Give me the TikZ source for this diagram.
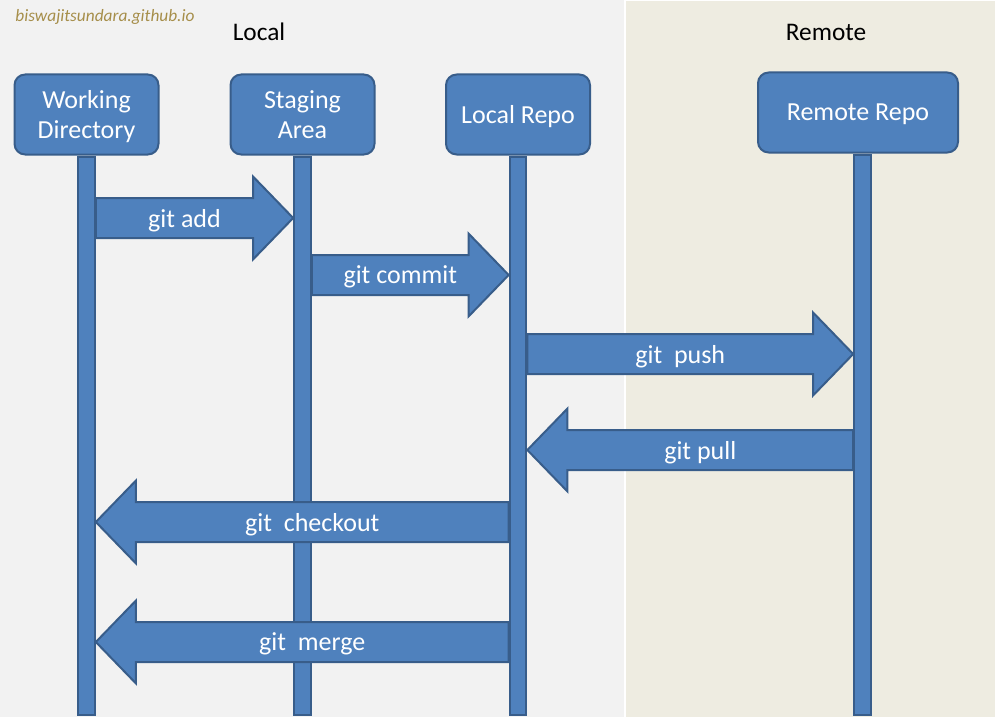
\documentclass[tikz,border=0pt]{standalone}
\usepackage{fontspec}
\setmainfont{Carlito}
\usetikzlibrary{calc}
\definecolor{boxblue}{RGB}{79,129,189}
\definecolor{boxedge}{RGB}{56,93,138}
\definecolor{localbg}{RGB}{242,242,242}
\definecolor{remotebg}{RGB}{238,236,225}
\definecolor{siteink}{RGB}{166,142,74}
\tikzstyle{repo}=[fill=boxblue, draw=boxedge, line width=1.5pt, shape=rectangle, rounded corners=8pt, minimum width=108pt, minimum height=60pt, inner sep=0pt, text depth=0pt, align=center, text=white, font=\fontsize{19.5}{22.5}\selectfont]
\tikzstyle{widerepo}=[repo, minimum width=150pt]
\tikzstyle{lifeline}=[fill=boxblue, draw=boxedge, line width=1.5pt, shape=rectangle, minimum width=12.5pt, inner sep=0pt, anchor=north]
\tikzstyle{flow}=[fill=boxblue, draw=boxedge, line width=1.5pt, line join=miter]
\tikzstyle{cmd}=[text=white, inner sep=0pt, text depth=0pt, font=\fontsize{19.5}{22.5}\selectfont]
\tikzstyle{side}=[text=black, inner sep=0pt, font=\fontsize{19}{22.5}\selectfont]
\tikzstyle{site}=[text=siteink, inner sep=0pt, font=\fontsize{13}{15}\selectfont\itshape]
% block arrow: name, from, to, text
\newcommand{\gitflow}[4]{%
  \draw[flow] let \p1=(#2), \p2=(#3), \n1={sign(\x2-\x1)*30pt} in
    ({\x1},{\y1+15pt}) -- ({\x2-\n1},{\y1+15pt}) -- ({\x2-\n1},{\y1+31pt}) -- ({\x2},{\y1})
    -- ({\x2-\n1},{\y1-31pt}) -- ({\x2-\n1},{\y1-15pt}) -- ({\x1},{\y1-15pt}) -- cycle
    node[cmd] (#1) at ({(\x1+\x2)/2-\n1/4},{\y1}) {#4};
}

\begin{document}
\begin{tikzpicture}[x=0.75pt, y=-0.75pt]
	\useasboundingbox (0,0) rectangle (995,717);
	\fill[white] (0,0) rectangle (995,717);
	\fill[localbg] (0,0) rectangle (624,717);
	\fill[remotebg] (626,1) rectangle (995,717);
	\node [style=site] (14) at (105,17) {biswajitsundara.github.io};
	\node [style=side] (15) at (259,32) {Local};
	\node [style=side] (16) at (826,32) {Remote};
	\node [style=repo] (0) at (86.5,114.5) {Working\\Directory};
	\node [style=repo] (1) at (302.5,114.5) {Staging\\Area};
	\node [style=repo] (2) at (518,114.5) {Local Repo};
	\node [style=widerepo] (3) at (858,112.5) {Remote Repo};
	\node [style=lifeline, minimum height=418.5pt] (4) at (0.south) {};
	\node [style=lifeline, minimum height=418.5pt] (5) at (1.south) {};
	\node [style=lifeline, minimum height=418.5pt] (6) at (2.south) {};
	\node [style=lifeline, minimum height=420pt, xshift=3.4pt] (7) at (3.south) {};
	\gitflow{8}{4.east |- 0,218}{5.west |- 0,218}{git add}
	\gitflow{9}{5.east |- 0,275}{6.west |- 0,275}{git commit}
	\gitflow{10}{6.east |- 0,354}{7.west |- 0,354}{git~~push}
	\gitflow{11}{7.west |- 0,450}{6.east |- 0,450}{git pull}
	\gitflow{12}{6.west |- 0,522}{4.east |- 0,522}{git~~checkout}
	\gitflow{13}{6.west |- 0,642}{4.east |- 0,642}{git~~merge}
\end{tikzpicture}
\end{document}
